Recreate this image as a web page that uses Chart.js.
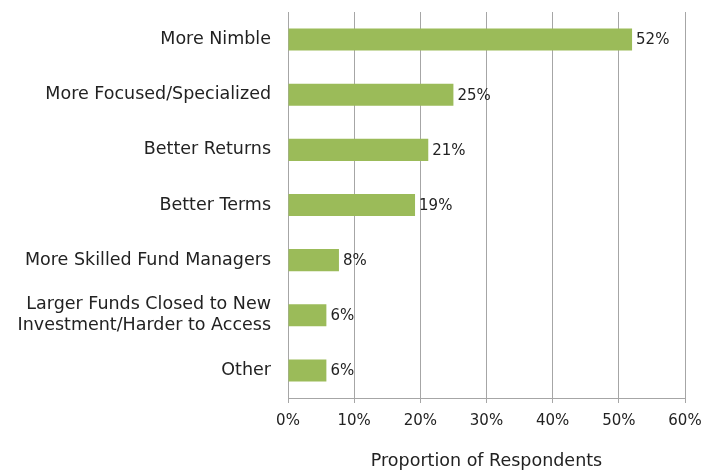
<!DOCTYPE html>
<html>
<head>
<meta charset="utf-8">
<script src="https://cdn.jsdelivr.net/npm/chart.js"></script>
<style>
  html, body { margin: 0; padding: 0; background: #fff; }
</style>
</head>
<body>
<canvas id="myChart" width="705" height="470"></canvas>
<script>
  // values
  const categories = [
    'More Nimble',
    'More Focused/Specialized',
    'Better Returns',
    'Better Terms',
    'More Skilled Fund Managers',
    ['Larger Funds Closed to New', 'Investment/Harder to Access'],
    'Other'
  ];
  const shares = [52, 25, 21.2, 19.2, 7.7, 5.8, 5.8];
  const shareLabels = ['52%', '25%', '21%', '19%', '8%', '6%', '6%'];
  const xTicks = [0, 10, 20, 30, 40, 50, 60];

  const fontName = '"DejaVu Sans", sans-serif';
  const gridGrey = '#A6A6A6';

  // draws the % next to the end of each bar
  const barValues = {
    id: 'barValues',
    afterDatasetsDraw(chart) {
      const ctx = chart.ctx;
      const meta = chart.getDatasetMeta(0);
      ctx.save();
      ctx.font = '15px ' + fontName;
      ctx.fillStyle = '#222';
      ctx.textAlign = 'left';
      ctx.textBaseline = 'middle';
      meta.data.forEach((bar, i) => {
        ctx.fillText(shareLabels[i], bar.x + 4, bar.y + 1);
      });
      ctx.restore();
    }
  };

  const ctx = document.getElementById('myChart');
  new Chart(ctx, {
    type: 'bar',
    data: {
      labels: categories,
      datasets: [{
        data: shares,
        backgroundColor: '#9BBB59',
        borderWidth: 0,
        barPercentage: 0.4,
        categoryPercentage: 1
      }]
    },
    plugins: [barValues],
    options: {
      indexAxis: 'y',
      responsive: false,
      animation: false,
      devicePixelRatio: 1,
      layout: { padding: { top: 12, right: 20, left: 0, bottom: 0 } },
      plugins: {
        legend: { display: false },
        tooltip: { enabled: false }
      },
      scales: {
        x: {
          min: 0,
          max: 60,
          afterBuildTicks(scale) {
            scale.ticks = xTicks.map(v => ({ value: v }));
          },
          afterFit(scale) {
            scale.height = 72;
            scale.paddingLeft = 0;
            scale.paddingRight = 0;
          },
          ticks: {
            color: '#222',
            font: { family: fontName, size: 15 },
            padding: 9,
            callback: v => v + '%'
          },
          grid: {
            color: gridGrey,
            lineWidth: 1,
            drawTicks: true,
            tickLength: 5
          },
          border: { color: gridGrey, width: 1 },
          title: {
            display: true,
            text: 'Proportion of Respondents',
            color: '#222',
            font: { family: fontName, size: 17.5, lineHeight: 1 },
            padding: { top: 18, bottom: 0 }
          }
        },
        y: {
          afterFit(scale) {
            scale.width = 288;
            scale.paddingTop = 0;
            scale.paddingBottom = 0;
          },
          ticks: {
            color: '#222',
            font: { family: fontName, size: 17.5 },
            padding: 9
          },
          grid: { display: false },
          border: { color: gridGrey, width: 1 }
        }
      }
    }
  });
</script>
</body>
</html>
